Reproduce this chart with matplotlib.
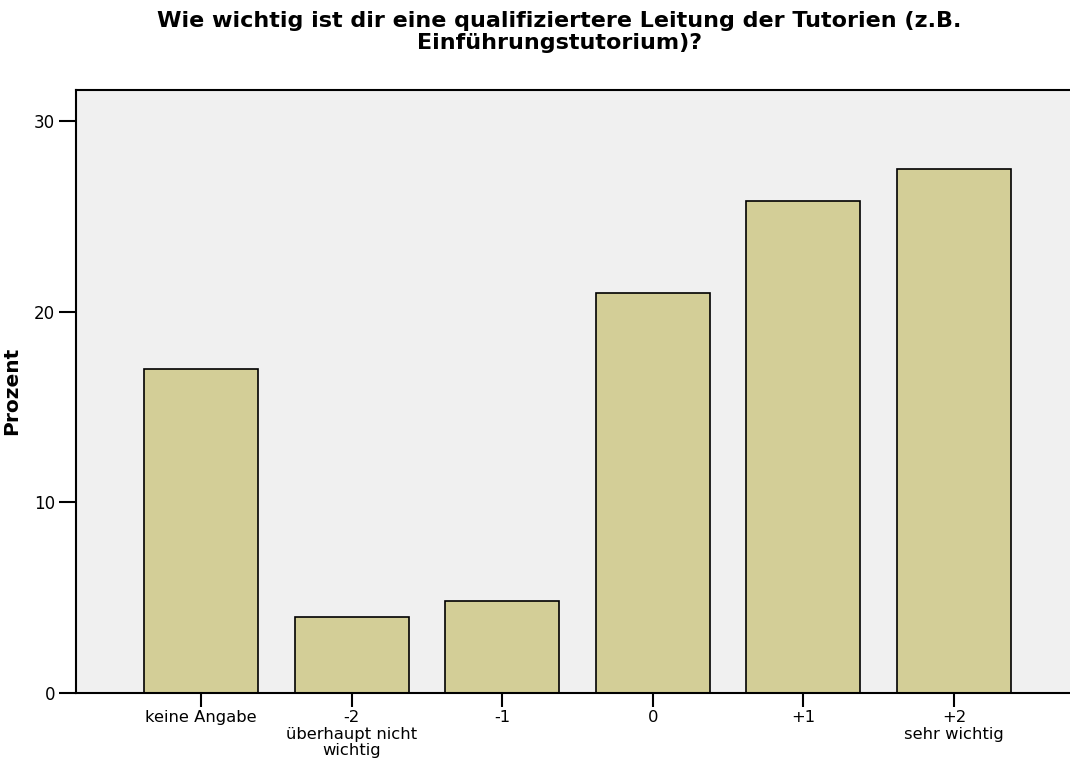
import matplotlib
matplotlib.use('Agg')
import matplotlib.pyplot as plt

# data
categories = ['keine Angabe', '-2\nüberhaupt nicht\nwichtig', '-1', '0', '+1', '+2\nsehr wichtig']
percent = [17.0, 4.0, 4.8, 21.0, 25.8, 27.5]
yticks = [0, 10, 20, 30]

title = 'Wie wichtig ist dir eine qualifiziertere Leitung der Tutorien (z.B.\nEinführungstutorium)?'

plt.rcParams['font.family'] = ['DejaVu Sans']

fig = plt.figure(figsize=(10.7, 7.62), dpi=100)
ax = fig.add_axes([0.071, 0.0906, 0.929, 0.7917])
ax.set_facecolor('#F0F0F0')

x = list(range(len(categories)))
ax.bar(x, percent, width=0.757, color='#D3CE97', edgecolor='black', linewidth=1.2, zorder=2)

ax.set_xlim(-0.83, 5.77)
ax.set_ylim(0, 31.65)
ax.set_xticks(x)
ax.set_xticklabels(categories, fontsize=11.8, linespacing=1.1)
ax.set_yticks(yticks)
ax.set_yticklabels([str(v) for v in yticks], fontsize=12)
ax.tick_params(axis='y', length=12, width=1.5, pad=3)
ax.tick_params(axis='x', length=10, width=1.5, pad=2.5)

for s in ['left', 'bottom', 'top']:
    ax.spines[s].set_linewidth(1.5)
ax.spines['right'].set_visible(False)

ax.set_ylabel('Prozent', fontsize=14.5, fontweight='bold')
ax.yaxis.set_label_coords(-0.0555, 0.5)
fig.text(0.523, 0.985, title, ha='center', va='top', fontsize=16, fontweight='bold', linespacing=1.08)

fig.savefig('out.png', dpi=100)
